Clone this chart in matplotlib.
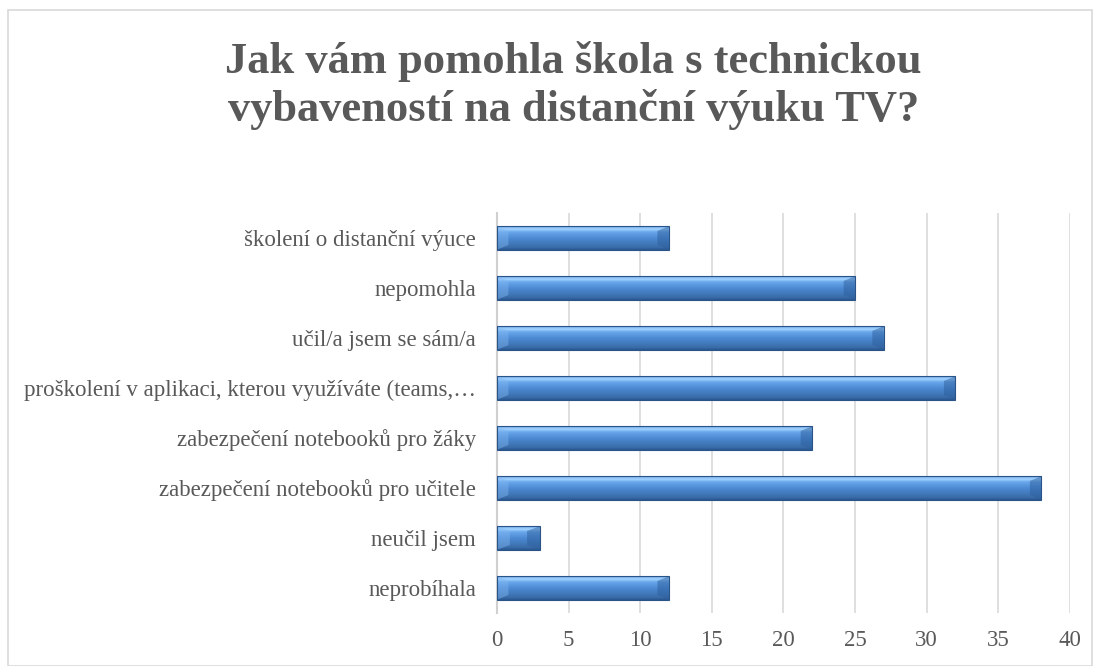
import matplotlib.pyplot as plt
import numpy as np
from matplotlib.patches import Rectangle, Polygon
from matplotlib.colors import LinearSegmentedColormap

# data (bottom to top as drawn)
categories = ['neprobíhala', 'neučil jsem', 'zabezpečení notebooků pro učitele',
              'zabezpečení notebooků pro žáky',
              'proškolení v aplikaci, kterou využíváte (teams,…',
              'učil/a jsem se sám/a', 'nepomohla', 'školení o distanční výuce']
values = [12, 3, 38, 22, 32, 27, 25, 12]
xticks = [0, 5, 10, 15, 20, 25, 30, 35, 40]
title = 'Jak vám pomohla škola s technickou\nvybaveností na distanční výuku TV?'

plt.rcParams['font.family'] = ['Liberation Serif', 'DejaVu Serif']
txt = '#595959'

fig = plt.figure(figsize=(10.99, 6.66), dpi=100)
ax = fig.add_axes([0.4522, 0.0796, 0.5214, 0.6006])

# frame around the chart area
fig.patches.append(Rectangle((0.007, 0.0), 0.987, 0.985, transform=fig.transFigure,
                             fill=False, edgecolor='#d9d9d9', lw=1.2))

ypos = np.arange(len(categories))
bh = 0.47
bars = ax.barh(ypos, values, height=bh, color='#4a86cf', edgecolor='none', zorder=3)

# vertical gradient to fake the bevelled look
cmap = LinearSegmentedColormap.from_list('bev', [
    (0.0, '#2a5790'), (0.12, '#3a6eaa'), (0.5, '#4d8ad4'),
    (0.75, '#68a6ea'), (0.87, '#a3d3ff'), (1.0, '#6aa6ea')])
grad = np.linspace(0, 1, 256).reshape(-1, 1)
for b, v, y in zip(bars, values, ypos):
    im = ax.imshow(grad, cmap=cmap, aspect='auto', origin='lower',
                   extent=[0, v, y - bh / 2, y + bh / 2], zorder=4)
    im.set_clip_path(b)
    # bevel ends
    d = 0.8 if v > 3 else v * 0.3
    ax.add_patch(Polygon([[v, y - bh / 2], [v, y + bh / 2], [v - d, y + bh * 0.3], [v - d, y - bh * 0.3]],
                         closed=True, color='#2d5f9c', alpha=0.5, lw=0, zorder=5))
    ax.add_patch(Polygon([[0, y - bh / 2], [0, y + bh / 2], [d, y + bh * 0.3], [d, y - bh * 0.3]],
                         closed=True, color='#7fb6f0', alpha=0.45, lw=0, zorder=5))
    ax.add_patch(Rectangle((0, y - bh / 2), v, bh, fill=False, edgecolor='#2a5488', lw=0.8, zorder=6))

ax.set_xlim(0, 40)
ax.set_ylim(-0.5, len(categories) - 0.5)
ax.set_xticks(xticks)
ax.set_yticks(ypos)
ax.set_yticklabels(categories)
ax.tick_params(axis='both', length=0, labelsize=16.5, colors=txt)
ax.tick_params(axis='y', pad=15)
ax.tick_params(axis='x', pad=12)
ax.grid(axis='x', color='#d9d9d9', lw=1.2, zorder=0)
for s in ['top', 'right', 'bottom']:
    ax.spines[s].set_visible(False)
ax.spines['left'].set_color('#d0d0d0')
ax.spines['left'].set_linewidth(1.5)

fig.text(0.522, 0.872, title, ha='center', va='center', fontsize=32,
         fontweight='bold', color=txt, linespacing=1.22)

fig.savefig('out.png', dpi=100)
